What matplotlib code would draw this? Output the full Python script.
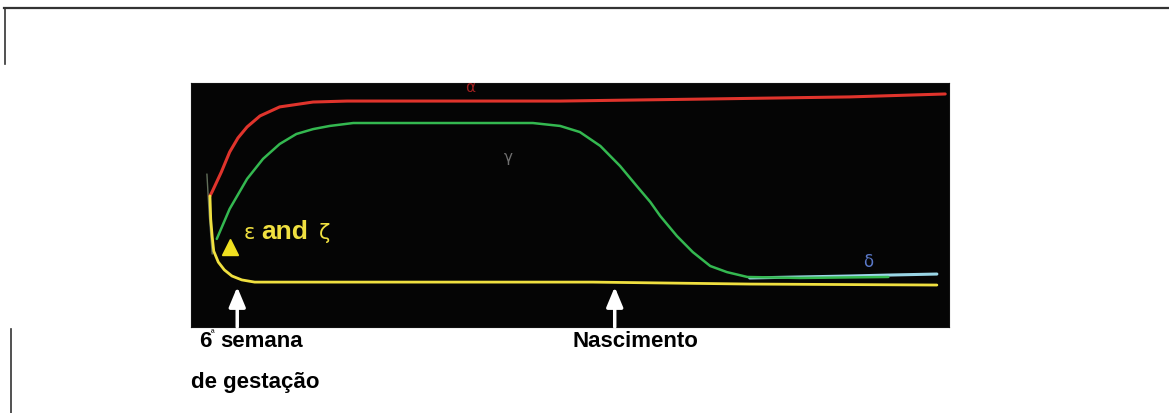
import matplotlib
matplotlib.use("Agg")
import matplotlib.pyplot as plt
from matplotlib.lines import Line2D

# ---- data (x: relative developmental time 0-100, y: relative expression 0-100)
alpha_x = [2.5, 2.8, 4.0, 5.1, 6.2, 7.4, 9.1, 11.7, 16.1, 20.6, 34.2, 48.7, 67.2, 86.9, 99.5]
alpha_y = [53.7, 55.5, 63.5, 71.7, 77.5, 82.0, 86.5, 90.2, 92.2, 92.6, 92.6, 92.6, 93.4, 94.3, 95.5]

gamma_x = [3.4, 5.1, 7.4, 9.5, 11.7, 13.9, 16.1, 18.3, 21.4, 45.1, 48.7, 51.3, 54.0, 56.6,
           58.8, 60.6, 61.9, 64.1, 66.2, 68.5, 70.7, 73.4, 80.3, 92.0]
gamma_y = [36.1, 48.4, 60.7, 68.9, 75.0, 79.1, 81.1, 82.4, 83.6, 83.6, 82.4, 79.9, 74.2, 66.0,
           57.8, 51.2, 45.5, 37.3, 30.7, 25.0, 22.5, 20.5, 20.1, 20.5]

delta_x = [73.7, 80.3, 86.9, 92.2, 98.4]
delta_y = [20.1, 20.5, 20.9, 21.3, 21.7]

eps_x = [2.5, 2.6, 2.8, 3.0, 3.6, 4.4, 5.4, 6.7, 8.4, 14.4, 34.2, 53.0, 73.7, 98.4]
eps_y = [53.7, 44.3, 36.9, 31.1, 26.6, 23.4, 20.9, 19.3, 18.4, 18.4, 18.4, 18.4, 17.6, 17.2]

faint_x = [2.1, 2.4, 2.8]
faint_y = [62.7, 46.3, 29.9]

marker_x, marker_y = [5.1], [32.8]
arrow_x = [6.1, 55.9]
arrow_top = 16.4

W, H = 1169, 414
fig = plt.figure(figsize=(W / 100, H / 100), dpi=100)
fig.patch.set_facecolor("white")

L, R, T, B = 191, 949, 84, 328
ax = fig.add_axes([L / W, (H - B) / H, (R - L) / W, (B - T) / H])
ax.set_facecolor("#050505")
ax.set_xlim(0, 100)
ax.set_ylim(0, 100)
ax.set_xticks([])
ax.set_yticks([])
for s in ax.spines.values():
    s.set_color("#111111")

ax.plot(faint_x, faint_y, color="#7a8a70", lw=1.0, alpha=0.8, solid_capstyle="round")
ax.plot(alpha_x, alpha_y, color="#e0342c", lw=2.2, solid_capstyle="round",
        solid_joinstyle="round")
ax.plot(delta_x, delta_y, color="#9ad6e6", lw=2.2, solid_capstyle="round")
ax.plot(gamma_x, gamma_y, color="#34b850", lw=1.8, solid_capstyle="round",
        solid_joinstyle="round")
ax.plot(eps_x, eps_y, color="#f0e040", lw=2.0, solid_capstyle="round",
        solid_joinstyle="round")
ax.plot(marker_x, marker_y, marker="^", color="#f0e020", ms=11, ls="none")

ax.text(36.8, 98.6, "α", color="#a02020", fontsize=11, ha="center", va="center")
ax.text(41.8, 70.0, "γ", color="#707070", fontsize=11, ha="center", va="center")
ax.text(89.3, 27.0, "δ", color="#5a78c8", fontsize=12, ha="center", va="center")

ax.text(6.9, 38.9, "ε", color="#f0e040", fontsize=15, ha="left", va="center",
        family="DejaVu Sans")
ax.text(9.3, 39.5, "and", color="#f0e040", fontsize=19, fontweight="bold",
        ha="left", va="center", family="Liberation Sans")
ax.text(16.9, 38.9, "ζ", color="#f0e040", fontsize=15, ha="left", va="center",
        family="DejaVu Sans")

for xa in arrow_x:
    ax.annotate("", xy=(xa, arrow_top), xytext=(xa, 0.0),
                arrowprops=dict(arrowstyle="-|>,head_length=1.2,head_width=0.5",
                                color="white", lw=2.5, shrinkA=0, shrinkB=0))

def fx(px):
    return px / W

def fy(py):
    return (H - py) / H

lab = dict(color="black", fontsize=16, fontweight="bold", family="Liberation Sans")
fig.text(fx(199), fy(342), "6", ha="left", va="center", **lab)
fig.text(fx(211), fy(333), "ª", ha="left", va="center", color="black", fontsize=7,
         family="Liberation Sans")
fig.text(fx(220), fy(342), "semana", ha="left", va="center", **lab)
fig.text(fx(191), fy(383), "de gestação", ha="left", va="center", **lab)
fig.text(fx(573), fy(342), "Nascimento", ha="left", va="center", **lab)

# outer frame fragments
fig.add_artist(Line2D([fx(4), fx(1169)], [fy(9), fy(9)], color="#333333", lw=1.6))
fig.add_artist(Line2D([fx(5), fx(5)], [fy(9), fy(65)], color="#333333", lw=1.2))
fig.add_artist(Line2D([fx(11), fx(11)], [fy(330), fy(414)], color="#333333", lw=1.2))

fig.savefig("out.png", dpi=100, facecolor="white")
